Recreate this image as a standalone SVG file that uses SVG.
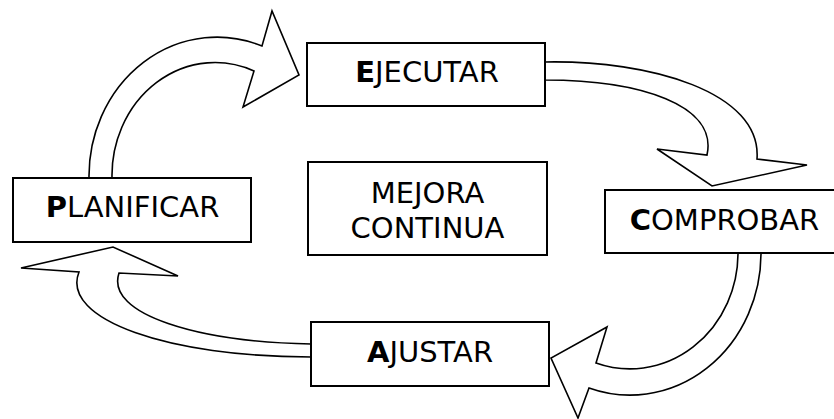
<svg xmlns="http://www.w3.org/2000/svg" width="834" height="419" viewBox="0 0 834 419">
<style>
.box{fill:#fff;stroke:#000;stroke-width:2}
.arr{fill:#fff;stroke:#000;stroke-width:1.6;stroke-linejoin:miter}
.t{font-family:"DejaVu Sans","Verdana",sans-serif;font-size:29px;fill:#000;text-anchor:middle}
.b{font-weight:bold}
</style>
<rect width="834" height="419" fill="#fff"/>
<g id="connectors">
<path class="arr" d="M89,178 A128,139 0 0 1 262,46 L272,11 L299,75 L243,107 L254,71 A103,113 0 0 0 112,178 Z"/>
<path class="arr" d="M545,62 C650,60 762,92 757,159 L807,165 L712,186 L657,149 L707,155 C718,105 640,80 545,80 Z"/>
<path class="arr" d="M738,253 A108,116 0 0 1 596,363 L607,327 L551,358 L578,418 L589,388 A131,142 0 0 0 761,253 Z"/>
<path class="arr" d="M311,344 C200,342 105,315 119,273 L178,276 L113,247 L21,268 L79,272 C60,320 170,357 311,357 Z"/>
</g>
<g id="ejecutar">
<rect class="box" x="307" y="43" width="238" height="63"/>
<text class="t" x="427" y="82"><tspan class="b">E</tspan>JECUTAR</text>
</g>
<g id="planificar">
<rect class="box" x="13" y="178" width="238" height="64"/>
<text class="t" x="132.5" y="217"><tspan class="b">P</tspan>LANIFICAR</text>
</g>
<g id="mejora">
<rect class="box" x="308" y="162" width="239" height="93"/>
<text class="t" x="427.5" y="203">MEJORA</text>
<text class="t" x="427.5" y="238">CONTINUA</text>
</g>
<g id="comprobar">
<rect class="box" x="605" y="190" width="240" height="63"/>
<text class="t" x="724.5" y="230"><tspan class="b">C</tspan>OMPROBAR</text>
</g>
<g id="ajustar">
<rect class="box" x="311" y="322" width="238" height="64"/>
<text class="t" x="430" y="362"><tspan class="b">A</tspan>JUSTAR</text>
</g>
</svg>
